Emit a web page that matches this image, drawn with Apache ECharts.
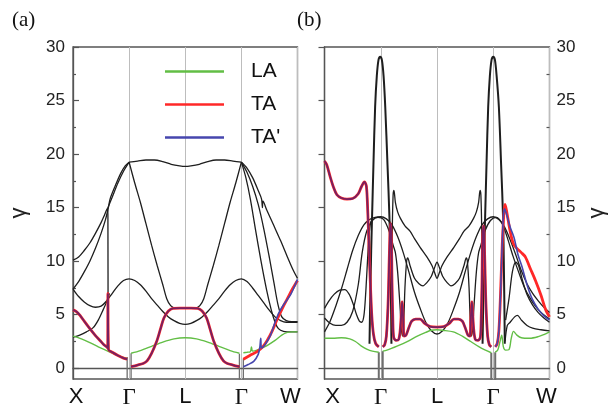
<!DOCTYPE html>
<html>
<head>
<meta charset="utf-8">
<script src="https://cdn.jsdelivr.net/npm/echarts@6/dist/echarts.min.js"></script>
<style>
  html, body { margin: 0; padding: 0; background: #fff; }
  #c { width: 610px; height: 409px; }
</style>
</head>
<body>
<div id="c"></div>
<script>
// High-symmetry points along the path: X(0) Γ(1) L(2) Γ(3) W(4)
const pathPoints = ['X', 'Γ', 'L', 'Γ', 'W'];
const yTickValues = [0, 5, 10, 15, 20, 25, 30];
const yMinorValues = [2.5, 7.5, 12.5, 17.5, 22.5, 27.5];

// ---------- panel (a) ----------
const laA_XG = [[0,3.0],[0.15,2.75],[0.3,2.4],[0.45,2.0],[0.6,1.65],[0.75,1.3],[0.88,1.05],[0.96,0.95]];
const laA_GLG = [[1.035,1.4],[1.2,1.65],[1.4,2.05],[1.6,2.45],[1.8,2.75],[2.0,2.85],[2.2,2.75],[2.4,2.45],[2.6,2.05],[2.8,1.65],[2.965,1.4]];
const laA_GW = [[3.035,1.45],[3.1,1.5],[3.16,1.55],[3.18,2.0],[3.2,1.6],[3.3,1.75],[3.45,2.1],[3.6,2.6],[3.72,3.1],[3.82,3.35],[3.9,3.4],[4,3.4]];

const taA_XG = [[0,5.45],[0.06,5.3],[0.125,4.95],[0.2,4.4],[0.3,3.7],[0.4,3.05],[0.48,2.6],[0.55,2.2],[0.6,2.0],[0.618,1.9],[0.622,7.0],[0.632,1.75],[0.7,1.5],[0.8,1.2],[0.9,0.95],[0.965,0.85]];
const taA_GLG = [[1.035,0.15],[1.15,0.3],[1.25,0.45],[1.32,0.7],[1.4,1.4],[1.49,2.5],[1.56,3.7],[1.62,4.7],[1.7,5.35],[1.78,5.6],[1.9,5.62],[2.1,5.62],[2.22,5.6],[2.3,5.35],[2.38,4.7],[2.44,3.7],[2.51,2.5],[2.6,1.4],[2.68,0.7],[2.75,0.45],[2.85,0.3],[2.965,0.15]];
const taA_GW = [[3.035,0.85],[3.15,1.2],[3.28,1.55],[3.38,2.0],[3.46,2.6],[3.55,3.5],[3.64,4.6],[3.73,5.6],[3.82,6.5],[3.91,7.4],[4,8.2]];
const ta2A_GW = [[3.035,0.15],[3.12,0.35],[3.22,0.65],[3.3,1.3],[3.33,2.0],[3.345,2.8],[3.36,1.9],[3.42,2.2],[3.52,3.1],[3.6,4.3],[3.67,5.2],[3.76,6.0],[3.88,6.9],[3.95,7.7],[4,8.3]];

const optA1 = [[0,10.1],[0.1,10.4],[0.2,11.0],[0.3,11.7],[0.4,12.6],[0.5,13.6],[0.56,14.3],[0.6,14.8],[0.615,14.9],[0.622,14.3],[0.625,1.8]];
const optA2 = [[0.615,14.9],[0.7,16.0],[0.8,17.3],[0.9,18.4],[1,19.25]];
const optA3 = [[0,7.4],[0.1,8.1],[0.2,9.0],[0.3,10.0],[0.4,11.2],[0.5,12.6],[0.58,13.9],[0.63,15.0],[0.66,15.8],[0.75,17.0],[0.85,18.2],[0.93,18.9],[1,19.25]];
const optA4 = [[0,7.4],[0.1,6.7],[0.2,6.2],[0.3,5.85],[0.4,5.7],[0.5,5.8],[0.6,6.3],[0.7,7.0],[0.8,7.7],[0.9,8.2],[1.0,8.35],[1.1,8.2],[1.2,7.8],[1.3,7.2],[1.4,6.5],[1.5,5.9],[1.6,5.3],[1.7,4.8],[1.8,4.45],[1.9,4.2],[2.0,4.1],[2.1,4.2],[2.2,4.45],[2.3,4.8],[2.4,5.3],[2.5,5.9],[2.6,6.5],[2.7,7.2],[2.8,7.8],[2.9,8.2],[3.0,8.35],[3.1,8.1],[3.2,7.5],[3.3,6.8],[3.4,6.1],[3.5,5.4],[3.6,4.8],[3.7,4.45],[3.8,4.3],[4.0,4.3]];
const optA5 = [[0,2.9],[0.12,3.1],[0.24,3.4],[0.36,3.8],[0.45,4.5],[0.54,5.5],[0.6,6.2],[0.65,7.0]];
const optA6 = [[1,19.25],[1.15,19.35],[1.3,19.45],[1.45,19.45],[1.6,19.3],[1.75,19.05],[1.9,18.9],[2.0,18.85],[2.1,18.9],[2.25,19.05],[2.4,19.3],[2.55,19.45],[2.7,19.45],[2.85,19.35],[3.0,19.25]];
const optA7 = [[1,19.25],[1.1,17.3],[1.2,15.5],[1.3,13.5],[1.4,11.5],[1.5,9.6],[1.6,7.8],[1.67,6.5],[1.74,5.85],[1.82,5.62],[2.0,5.6],[2.18,5.62],[2.26,5.85],[2.33,6.5],[2.4,7.8],[2.5,9.6],[2.6,11.5],[2.7,13.5],[2.8,15.5],[2.9,17.3],[3,19.25]];
const optA8 = [[3,19.25],[3.08,17.8],[3.16,15.8],[3.25,13],[3.35,10],[3.45,7.3],[3.53,5.5],[3.6,4.3],[3.66,3.7],[3.75,3.45],[3.9,3.4],[4,3.4]];
const optA9 = [[3,19.25],[3.1,18.3],[3.2,17],[3.3,15.3],[3.4,13],[3.5,10.3],[3.58,8.0],[3.65,6.0],[3.72,4.8],[3.8,4.45],[3.9,4.35],[4,4.35]];
const optA10 = [[3,19.25],[3.1,18.7],[3.2,17.8],[3.3,16.6],[3.36,15.8],[3.375,15.0],[3.385,15.6],[3.45,14.8],[3.58,13.3],[3.7,11.9],[3.82,10.4],[3.92,9.2],[4,8.4]];
const slotA = [[[0.965,-2],[0.965,1.05]],[[1.035,1.4],[1.035,-2]],[[2.965,-2],[2.965,1.35]],[[3.035,0.9],[3.035,-2]]];

// ---------- panel (b) ----------
const laB_XG = [[0,2.8],[0.15,2.8],[0.3,2.85],[0.45,2.75],[0.55,2.5],[0.65,2.1],[0.75,1.8],[0.85,1.6],[0.965,1.5]];
const laB_GLG = [[1.035,1.6],[1.11,1.7],[1.3,2.1],[1.47,2.5],[1.65,3.0],[1.8,3.35],[1.9,3.55],[2.0,3.6],[2.1,3.55],[2.29,3.4],[2.45,3.0],[2.6,2.5],[2.75,2.0],[2.86,1.7],[2.965,1.45]];
const laB_GW = [[3.035,1.5],[3.08,1.7],[3.12,2.5],[3.15,3.1],[3.18,2.0],[3.22,1.7],[3.28,1.75],[3.32,2.8],[3.36,3.45],[3.42,3.1],[3.5,2.85],[3.65,2.8],[3.8,2.95],[3.9,3.15],[4,3.4]];

const taB_XG = [[0,19.35],[0.04,19.0],[0.1,17.9],[0.16,16.9],[0.22,16.2],[0.3,15.9],[0.4,15.8],[0.5,15.85],[0.6,16.3],[0.66,17.0],[0.71,17.4],[0.745,17.0],[0.77,14.5],[0.79,11.5],[0.815,8],[0.84,5],[0.87,3.2],[0.91,2.3],[0.965,2.0]];
const taB_GLG = [[1.035,2.0],[1.07,2.2],[1.1,3.0],[1.13,6],[1.15,10],[1.165,12.8],[1.175,13.5],[1.19,12],[1.2,8],[1.215,4.5],[1.23,2.9],[1.27,2.6],[1.32,2.7],[1.35,3.8],[1.38,6.2],[1.4,4.5],[1.415,3.0],[1.45,3.1],[1.5,3.8],[1.55,4.4],[1.62,4.6],[1.7,4.6],[1.78,4.2],[1.88,3.9],[2.0,3.85],[2.12,3.9],[2.22,4.2],[2.3,4.6],[2.38,4.6],[2.45,4.4],[2.5,3.8],[2.55,3.1],[2.585,3.0],[2.6,4.5],[2.62,6.2],[2.65,3.8],[2.68,2.7],[2.73,2.6],[2.77,2.9],[2.785,4.5],[2.8,8],[2.81,12],[2.825,13.3],[2.835,12.8],[2.85,10],[2.87,6],[2.9,3.0],[2.93,2.2],[2.965,2.0]];
const taB_GW = [[3.035,2.0],[3.07,2.3],[3.1,3.5],[3.13,7],[3.16,11.5],[3.19,14.5],[3.21,15.3],[3.24,14.6],[3.3,12.8],[3.36,11.6],[3.42,11.2],[3.5,10.8],[3.57,10.4],[3.66,9.3],[3.75,8.2],[3.85,6.8],[3.93,5.5],[4,4.8]];
const ta2B_GW = [[3.035,2.0],[3.07,2.3],[3.1,3.5],[3.13,7],[3.155,11],[3.18,14.2],[3.2,14.9],[3.23,14.5],[3.3,13.2],[3.37,12.2],[3.44,10.6],[3.51,9.5],[3.6,7.8],[3.69,6.5],[3.8,5.5],[3.9,4.9],[4,4.5]];

const optB1 = [[0.80,2.3],[0.815,7],[0.83,11],[0.845,14],[0.87,19],[0.9,24.4],[0.93,27.3],[0.96,28.8],[0.99,29.1],[1.02,28.8],[1.05,27.3],[1.08,24.4],[1.12,19],[1.155,14],[1.175,9],[1.185,5],[1.19,2.3]];
const optB2 = [[2.81,2.3],[2.825,7],[2.84,11],[2.855,14],[2.88,19],[2.91,24.4],[2.94,27.3],[2.97,28.8],[3.0,29.1],[3.03,28.8],[3.06,27.3],[3.1,24.4],[3.14,19],[3.175,14],[3.19,9],[3.2,5],[3.205,2.3]];
const optB3 = [[0,3.4],[0.1,4.4],[0.2,5.8],[0.3,7.4],[0.4,9.2],[0.5,11.0],[0.6,12.4],[0.7,13.4],[0.8,13.9],[0.9,14.1],[1.0,14.15],[1.1,13.95],[1.2,13.4],[1.3,12.3],[1.4,10.8],[1.5,9.0],[1.6,7.1],[1.7,5.6],[1.8,4.3],[1.9,3.5],[2.0,3.2],[2.1,3.5],[2.2,4.3],[2.3,5.6],[2.4,7.1],[2.5,9.0],[2.6,10.8],[2.7,12.3],[2.8,13.4],[2.9,13.95],[3.0,14.15],[3.1,13.9],[3.2,13.2],[3.3,12.0],[3.4,10.6],[3.5,9.1],[3.6,7.9],[3.7,7.0],[3.8,6.3],[3.9,5.7],[4.0,5.2]];
const optB4 = [[0,4.7],[0.1,4.2],[0.2,4.0],[0.3,4.0],[0.4,4.3],[0.5,5.3],[0.6,7.8],[0.67,10.8],[0.75,12.8],[0.85,13.8],[0.95,14.1],[1.05,13.9],[1.15,12.8],[1.22,11.5],[1.26,10.8],[1.3,9.0],[1.34,6.0],[1.37,3.5],[1.39,3.0],[1.41,4.5],[1.43,7.5],[1.46,10.0],[1.48,10.3],[1.52,9.6],[1.6,8.4],[1.68,7.9],[1.75,7.7],[1.82,8.0],[1.9,8.6],[1.95,9.3],[2.0,9.9],[2.05,9.3],[2.1,8.6],[2.18,8.0],[2.25,7.7],[2.32,7.9],[2.4,8.4],[2.48,9.6],[2.52,10.3],[2.54,10.0],[2.57,7.5],[2.59,4.5],[2.61,3.0],[2.63,3.5],[2.66,6.0],[2.7,9.0],[2.74,10.8],[2.78,11.5],[2.85,12.8],[2.95,13.8],[3.05,14.1],[3.15,13.6],[3.25,12.2],[3.35,10.5],[3.45,9.0],[3.55,7.6],[3.65,6.6],[3.75,5.8],[3.85,5.2],[4,4.6]];
const optB5 = [[1.195,9],[1.205,13],[1.22,16.2],[1.235,16.6],[1.26,15.5],[1.3,14.6],[1.35,14.0],[1.43,13.3],[1.52,12.8],[1.6,12.1],[1.7,11.3],[1.82,10.4],[1.91,9.6],[1.96,8.9],[2.0,8.4],[2.04,8.9],[2.09,9.6],[2.18,10.4],[2.3,11.3],[2.4,12.1],[2.48,12.8],[2.57,13.3],[2.65,14.0],[2.7,14.6],[2.74,15.5],[2.765,16.6],[2.78,16.2],[2.795,13],[2.805,9]];
const optB6 = [[0,5.6],[0.08,6.3],[0.17,6.9],[0.27,7.3],[0.36,7.35],[0.44,6.9],[0.51,6.0],[0.57,5.0],[0.62,4.4],[0.66,4.3],[0.7,4.9],[0.73,6.8],[0.76,9.6],[0.79,12.3],[0.82,13.6],[0.86,14.0]];
const optB7 = [[3.22,4.5],[3.28,6.5],[3.34,9.0],[3.4,9.9],[3.45,9.6],[3.52,8.2],[3.6,6.9],[3.7,5.9],[3.8,5.2],[3.9,4.7],[4,4.3]];
const optB8 = [[3.21,2.5],[3.25,4.0],[3.3,4.3],[3.38,4.8],[3.43,4.95],[3.5,4.5],[3.6,4.0],[3.7,3.75],[3.85,3.6],[4,3.5]];
const slotB = [[[0.965,-2],[0.965,1.5]],[[1.035,1.6],[1.035,-2]],[[2.965,-2],[2.965,1.45]],[[3.035,1.5],[3.035,-2]]];

// ---------- styling ----------
const BLACK = '#1e1e1e', GREEN = '#62be45', RED = '#ff2828', BLUE = '#4646ae', BLUE_DARK = '#1a1a88', SLOT = '#6e6e6e', FRAME = '#555';
const SANS = 'Liberation Sans', SERIF = 'Liberation Serif';

function line(name, data, panel, color, width, extra) {
  return Object.assign({
    type: 'line', name: name, data: data,
    xAxisIndex: panel, yAxisIndex: panel * 2,
    symbol: 'none', showSymbol: false, smooth: 0.3,
    silent: true, animation: false, clip: true,
    lineStyle: { color: color, width: width },
    itemStyle: { color: color }
  }, extra || {});
}

const series = [];
[slotA, slotB].forEach((slots, p) => slots.forEach(s =>
  series.push(line('slot', s, p, SLOT, p ? 2 : 1.3, { smooth: false }))));
[optA1, optA2, optA3, optA4, optA5, optA6, optA7, optA8, optA9, optA10].forEach(d =>
  series.push(line('optical', d, 0, BLACK, 1.3)));
[optB3, optB4, optB5, optB6, optB7, optB8].forEach(d =>
  series.push(line('optical', d, 1, BLACK, 1.3)));
[optB1, optB2].forEach(d => series.push(line('optical', d, 1, BLACK, 2)));
[[laA_XG, laA_GLG, laA_GW], [laB_XG, laB_GLG, laB_GW]].forEach((segs, p) => segs.forEach(d =>
  series.push(line('LA', d, p, GREEN, 1.4))));
[[taA_XG, taA_GLG, taA_GW], [taB_XG, taB_GLG, taB_GW]].forEach((segs, p) => segs.forEach(d =>
  series.push(line('TA', d, p, RED, 2.8))));
// TA' follows TA over most of the path; there the two overlap as a dark purple line
[[taA_XG, taA_GLG], [taB_XG, taB_GLG]].forEach((segs, p) => segs.forEach(d =>
  series.push(line("TA'", d, p, BLUE, 1.8, { lineStyle: { color: BLUE_DARK, width: 1.8, opacity: 0.6 } }))));
[ta2A_GW, ta2B_GW].forEach((d, p) => series.push(line("TA'", d, p, BLUE, 1.6)));

function xAxis(grid, shifts) {
  const rich = {};
  pathPoints.forEach((n, i) => {
    const pad = shifts[i] >= 0 ? [0, 0, 0, 2 * shifts[i]] : [0, -2 * shifts[i], 0, 0];
    rich['p' + i] = n === 'Γ'
      ? { fontFamily: SERIF, fontSize: 23, color: '#111', padding: pad }
      : { fontFamily: SANS, fontSize: 22, color: '#111', padding: pad };
  });
  return {
    gridIndex: grid, type: 'value', min: 0, max: 4, interval: 1,
    axisLine: { show: true, lineStyle: { color: FRAME, width: 1.3 } },
    axisTick: { show: false },
    splitLine: { show: true, lineStyle: { color: '#bdbdbd', width: 1 } },
    axisLabel: {
      margin: 7, showMinLabel: true, showMaxLabel: true,
      formatter: v => { const i = Math.round(v); return '{p' + i + '|' + pathPoints[i] + '}'; },
      rich: rich
    }
  };
}

function yAxisMajor(grid, side) {
  return {
    gridIndex: grid, type: 'value', min: -1, max: 30, position: side,
    axisLine: { show: true, lineStyle: { color: FRAME, width: 1.3 } },
    axisTick: { show: true, inside: true, length: 6, customValues: yTickValues, lineStyle: { color: FRAME, width: 1.2 } },
    axisLabel: { customValues: yTickValues, margin: side === 'left' ? 8 : 7, fontSize: 17, fontFamily: SANS, color: '#222' },
    splitLine: { show: false },
    name: 'γ', nameLocation: 'middle', nameRotate: 90,
    nameGap: side === 'left' ? 43 : 36,
    nameTextStyle: { fontSize: 22, fontFamily: SANS, color: '#222' }
  };
}
function yAxisMinor(grid, side) {
  return {
    gridIndex: grid, type: 'value', min: -1, max: 30, position: side,
    axisLine: { show: false },
    axisTick: { show: true, inside: true, length: 3, customValues: yMinorValues, lineStyle: { color: FRAME, width: 1.2 } },
    axisLabel: { show: false },
    splitLine: { show: false }
  };
}

const chart = echarts.init(document.getElementById('c'), null, { renderer: 'canvas' });
chart.setOption({
  animation: false,
  backgroundColor: '#fff',
  grid: [
    { left: 73, top: 47, width: 224.5, height: 334, show: true, borderColor: FRAME, borderWidth: 1.3, containLabel: false },
    { left: 324.5, top: 47, width: 225, height: 334, show: true, borderColor: FRAME, borderWidth: 1.3, containLabel: false }
  ],
  xAxis: [xAxis(0, [3, 0, 0, 0, -7]), xAxis(1, [8, 0, 0, 0, -3])],
  yAxis: [yAxisMajor(0, 'left'), yAxisMinor(0, 'left'), yAxisMajor(1, 'right'), yAxisMinor(1, 'right')],
  legend: {
    orient: 'vertical', left: 160, top: 56,
    icon: 'rect', itemWidth: 59, itemHeight: 2.5, itemGap: 12,
    selectedMode: false,
    data: [
      { name: 'LA', itemStyle: { color: GREEN } },
      { name: 'TA', itemStyle: { color: RED } },
      { name: "TA'", itemStyle: { color: BLUE } }
    ],
    textStyle: { fontSize: 21, lineHeight: 21, fontFamily: SANS, color: '#111', padding: [0, 0, 0, 22] }
  },
  graphic: [
    { type: 'text', left: 12, top: 10, style: { text: '(a)', font: '21px "Liberation Serif"', fill: '#111' } },
    { type: 'text', left: 297, top: 10, style: { text: '(b)', font: '21px "Liberation Serif"', fill: '#111' } }
  ],
  series: series
});
</script>
</body>
</html>
